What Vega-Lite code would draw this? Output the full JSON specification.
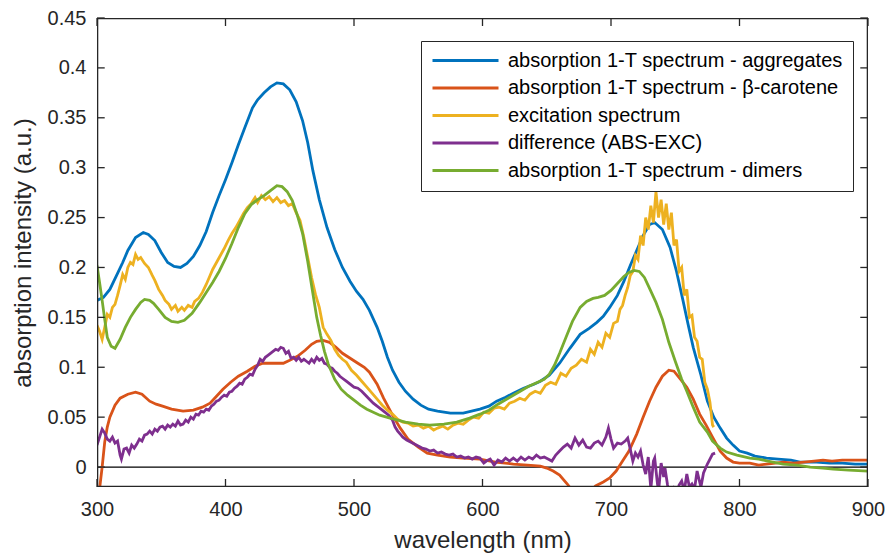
{
  "$schema": "https://vega.github.io/schema/vega-lite/v6.json",
  "width": 771,
  "height": 469,
  "autosize": "none",
  "padding": {"left": 97, "top": 18, "right": 20, "bottom": 67},
  "background": "white",
  "config": {
    "font": "Liberation Sans",
    "view": {"stroke": null},
    "axis": {
      "grid": false,
      "domain": false,
      "ticks": false,
      "labelFlush": false,
      "labelOverlap": false,
      "labelColor": "#262626",
      "labelFont": "Liberation Sans",
      "labelFontSize": 20,
      "titleFont": "Liberation Sans",
      "titleFontSize": 24,
      "titleFontWeight": "normal",
      "titleColor": "#262626"
    }
  },
  "datasets": {
    "xticks": [{"t": 300}, {"t": 400}, {"t": 500}, {"t": 600}, {"t": 700}, {"t": 800}, {"t": 900}],
    "yticks": [{"t": 0}, {"t": 0.05}, {"t": 0.1}, {"t": 0.15}, {"t": 0.2}, {"t": 0.25}, {"t": 0.3}, {"t": 0.35}, {"t": 0.4}, {"t": 0.45}],
    "aggregates": [
      {"wl": 300, "v": 0.167}, {"wl": 305, "v": 0.17}, {"wl": 310, "v": 0.178}, {"wl": 316, "v": 0.194},
      {"wl": 320, "v": 0.205}, {"wl": 324, "v": 0.217}, {"wl": 330, "v": 0.23}, {"wl": 336, "v": 0.235},
      {"wl": 340, "v": 0.233}, {"wl": 345, "v": 0.227}, {"wl": 350, "v": 0.215}, {"wl": 355, "v": 0.205},
      {"wl": 360, "v": 0.201}, {"wl": 365, "v": 0.2}, {"wl": 370, "v": 0.204}, {"wl": 375, "v": 0.211},
      {"wl": 380, "v": 0.222}, {"wl": 385, "v": 0.236}, {"wl": 390, "v": 0.255}, {"wl": 395, "v": 0.272},
      {"wl": 400, "v": 0.288}, {"wl": 405, "v": 0.305}, {"wl": 410, "v": 0.323}, {"wl": 415, "v": 0.34},
      {"wl": 421, "v": 0.36}, {"wl": 425, "v": 0.368}, {"wl": 430, "v": 0.375}, {"wl": 435, "v": 0.381},
      {"wl": 440, "v": 0.385}, {"wl": 445, "v": 0.384}, {"wl": 450, "v": 0.378}, {"wl": 455, "v": 0.366},
      {"wl": 460, "v": 0.347}, {"wl": 464, "v": 0.325}, {"wl": 468, "v": 0.297}, {"wl": 473, "v": 0.268},
      {"wl": 479, "v": 0.24}, {"wl": 485, "v": 0.218}, {"wl": 491, "v": 0.2}, {"wl": 497, "v": 0.186},
      {"wl": 502, "v": 0.176}, {"wl": 507, "v": 0.168}, {"wl": 512, "v": 0.157}, {"wl": 518, "v": 0.14},
      {"wl": 522, "v": 0.126}, {"wl": 526, "v": 0.11}, {"wl": 530, "v": 0.097}, {"wl": 535, "v": 0.085},
      {"wl": 540, "v": 0.076}, {"wl": 546, "v": 0.068}, {"wl": 552, "v": 0.062}, {"wl": 558, "v": 0.058},
      {"wl": 565, "v": 0.056}, {"wl": 575, "v": 0.054}, {"wl": 585, "v": 0.054}, {"wl": 598, "v": 0.058},
      {"wl": 605, "v": 0.061}, {"wl": 611, "v": 0.066}, {"wl": 618, "v": 0.07}, {"wl": 624, "v": 0.074},
      {"wl": 632, "v": 0.079}, {"wl": 640, "v": 0.083}, {"wl": 645, "v": 0.086}, {"wl": 652, "v": 0.092},
      {"wl": 660, "v": 0.104}, {"wl": 668, "v": 0.119}, {"wl": 676, "v": 0.133}, {"wl": 683, "v": 0.139},
      {"wl": 689, "v": 0.145}, {"wl": 694, "v": 0.151}, {"wl": 699, "v": 0.16}, {"wl": 705, "v": 0.172},
      {"wl": 710, "v": 0.186}, {"wl": 715, "v": 0.202}, {"wl": 720, "v": 0.217}, {"wl": 725, "v": 0.232},
      {"wl": 730, "v": 0.243}, {"wl": 734, "v": 0.245}, {"wl": 740, "v": 0.238}, {"wl": 746, "v": 0.22},
      {"wl": 751, "v": 0.196}, {"wl": 756, "v": 0.167}, {"wl": 760, "v": 0.143}, {"wl": 764, "v": 0.12},
      {"wl": 770, "v": 0.092}, {"wl": 775, "v": 0.066}, {"wl": 780, "v": 0.05}, {"wl": 785, "v": 0.039},
      {"wl": 790, "v": 0.029}, {"wl": 795, "v": 0.022}, {"wl": 800, "v": 0.016}, {"wl": 806, "v": 0.014},
      {"wl": 812, "v": 0.011}, {"wl": 821, "v": 0.009}, {"wl": 830, "v": 0.008}, {"wl": 840, "v": 0.007},
      {"wl": 847, "v": 0.005}, {"wl": 860, "v": 0.005}, {"wl": 870, "v": 0.004}, {"wl": 880, "v": 0.004},
      {"wl": 890, "v": 0.003}, {"wl": 900, "v": 0.003}
    ],
    "carotene": [
      {"wl": 302, "v": -0.022}, {"wl": 304, "v": 0.0}, {"wl": 306, "v": 0.025}, {"wl": 308, "v": 0.04},
      {"wl": 310, "v": 0.05}, {"wl": 314, "v": 0.062}, {"wl": 318, "v": 0.069}, {"wl": 324, "v": 0.073},
      {"wl": 330, "v": 0.075}, {"wl": 335, "v": 0.073}, {"wl": 341, "v": 0.066}, {"wl": 346, "v": 0.063},
      {"wl": 351, "v": 0.061}, {"wl": 358, "v": 0.058}, {"wl": 367, "v": 0.056}, {"wl": 375, "v": 0.057},
      {"wl": 382, "v": 0.06}, {"wl": 388, "v": 0.064}, {"wl": 393, "v": 0.071}, {"wl": 398, "v": 0.078},
      {"wl": 404, "v": 0.085}, {"wl": 410, "v": 0.091}, {"wl": 417, "v": 0.096}, {"wl": 423, "v": 0.101},
      {"wl": 429, "v": 0.104}, {"wl": 437, "v": 0.104}, {"wl": 445, "v": 0.104}, {"wl": 450, "v": 0.107},
      {"wl": 456, "v": 0.111}, {"wl": 462, "v": 0.117}, {"wl": 467, "v": 0.123}, {"wl": 471, "v": 0.126},
      {"wl": 476, "v": 0.127}, {"wl": 481, "v": 0.125}, {"wl": 486, "v": 0.12}, {"wl": 491, "v": 0.114},
      {"wl": 497, "v": 0.109}, {"wl": 503, "v": 0.104}, {"wl": 508, "v": 0.1}, {"wl": 512, "v": 0.095},
      {"wl": 518, "v": 0.083}, {"wl": 523, "v": 0.069}, {"wl": 530, "v": 0.052}, {"wl": 536, "v": 0.039},
      {"wl": 542, "v": 0.028}, {"wl": 550, "v": 0.02}, {"wl": 557, "v": 0.014}, {"wl": 565, "v": 0.012},
      {"wl": 575, "v": 0.01}, {"wl": 585, "v": 0.009}, {"wl": 598, "v": 0.008}, {"wl": 610, "v": 0.005},
      {"wl": 624, "v": 0.003}, {"wl": 635, "v": 0.002}, {"wl": 645, "v": 0.001}, {"wl": 650, "v": -0.001},
      {"wl": 655, "v": -0.004}, {"wl": 660, "v": -0.008}, {"wl": 666, "v": -0.017}, {"wl": 670, "v": -0.024},
      {"wl": 675, "v": -0.03}, {"wl": 680, "v": -0.03}, {"wl": 684, "v": -0.024}, {"wl": 688, "v": -0.019},
      {"wl": 694, "v": -0.015}, {"wl": 699, "v": -0.011}, {"wl": 704, "v": -0.004}, {"wl": 709, "v": 0.006},
      {"wl": 714, "v": 0.016}, {"wl": 720, "v": 0.033}, {"wl": 725, "v": 0.05}, {"wl": 730, "v": 0.066},
      {"wl": 735, "v": 0.08}, {"wl": 740, "v": 0.091}, {"wl": 745, "v": 0.097}, {"wl": 749, "v": 0.096},
      {"wl": 754, "v": 0.088}, {"wl": 759, "v": 0.08}, {"wl": 764, "v": 0.068}, {"wl": 769, "v": 0.053},
      {"wl": 774, "v": 0.042}, {"wl": 779, "v": 0.03}, {"wl": 785, "v": 0.016}, {"wl": 790, "v": 0.009},
      {"wl": 795, "v": 0.005}, {"wl": 800, "v": 0.004}, {"wl": 808, "v": 0.004}, {"wl": 815, "v": 0.002},
      {"wl": 821, "v": 0.003}, {"wl": 828, "v": 0.004}, {"wl": 834, "v": 0.005}, {"wl": 842, "v": 0.004},
      {"wl": 850, "v": 0.005}, {"wl": 858, "v": 0.006}, {"wl": 865, "v": 0.007}, {"wl": 872, "v": 0.006},
      {"wl": 880, "v": 0.007}, {"wl": 890, "v": 0.007}, {"wl": 900, "v": 0.007}
    ],
    "excitation": [
      {"wl": 300, "v": 0.142}, {"wl": 302, "v": 0.136}, {"wl": 304, "v": 0.128}, {"wl": 306, "v": 0.14},
      {"wl": 308, "v": 0.153}, {"wl": 310, "v": 0.15}, {"wl": 312, "v": 0.16}, {"wl": 314, "v": 0.163},
      {"wl": 316, "v": 0.172}, {"wl": 318, "v": 0.182}, {"wl": 320, "v": 0.193}, {"wl": 322, "v": 0.188},
      {"wl": 324, "v": 0.2}, {"wl": 326, "v": 0.205}, {"wl": 328, "v": 0.203}, {"wl": 330, "v": 0.213},
      {"wl": 332, "v": 0.208}, {"wl": 334, "v": 0.21}, {"wl": 337, "v": 0.204}, {"wl": 340, "v": 0.2},
      {"wl": 343, "v": 0.192}, {"wl": 345, "v": 0.187}, {"wl": 348, "v": 0.178}, {"wl": 351, "v": 0.172},
      {"wl": 353, "v": 0.167}, {"wl": 356, "v": 0.163}, {"wl": 358, "v": 0.158}, {"wl": 361, "v": 0.162},
      {"wl": 363, "v": 0.156}, {"wl": 366, "v": 0.16}, {"wl": 368, "v": 0.157}, {"wl": 371, "v": 0.162},
      {"wl": 374, "v": 0.16}, {"wl": 376, "v": 0.166}, {"wl": 379, "v": 0.169}, {"wl": 382, "v": 0.175},
      {"wl": 385, "v": 0.183}, {"wl": 388, "v": 0.192}, {"wl": 390, "v": 0.198}, {"wl": 393, "v": 0.205},
      {"wl": 396, "v": 0.212}, {"wl": 399, "v": 0.219}, {"wl": 402, "v": 0.227}, {"wl": 405, "v": 0.234},
      {"wl": 408, "v": 0.24}, {"wl": 411, "v": 0.247}, {"wl": 414, "v": 0.254}, {"wl": 417, "v": 0.26},
      {"wl": 420, "v": 0.264}, {"wl": 423, "v": 0.27}, {"wl": 425, "v": 0.265}, {"wl": 428, "v": 0.272},
      {"wl": 431, "v": 0.268}, {"wl": 434, "v": 0.271}, {"wl": 437, "v": 0.266}, {"wl": 440, "v": 0.27},
      {"wl": 443, "v": 0.265}, {"wl": 446, "v": 0.267}, {"wl": 449, "v": 0.262}, {"wl": 452, "v": 0.264},
      {"wl": 455, "v": 0.255}, {"wl": 458, "v": 0.247}, {"wl": 461, "v": 0.23}, {"wl": 464, "v": 0.21},
      {"wl": 467, "v": 0.19}, {"wl": 470, "v": 0.173}, {"wl": 473, "v": 0.16}, {"wl": 476, "v": 0.14},
      {"wl": 479, "v": 0.133}, {"wl": 482, "v": 0.127}, {"wl": 485, "v": 0.118}, {"wl": 488, "v": 0.112},
      {"wl": 491, "v": 0.108}, {"wl": 494, "v": 0.105}, {"wl": 498, "v": 0.097}, {"wl": 502, "v": 0.092},
      {"wl": 506, "v": 0.086}, {"wl": 510, "v": 0.08}, {"wl": 514, "v": 0.074}, {"wl": 518, "v": 0.068},
      {"wl": 522, "v": 0.062}, {"wl": 526, "v": 0.057}, {"wl": 530, "v": 0.053}, {"wl": 534, "v": 0.048},
      {"wl": 538, "v": 0.045}, {"wl": 542, "v": 0.044}, {"wl": 546, "v": 0.041}, {"wl": 550, "v": 0.042},
      {"wl": 554, "v": 0.039}, {"wl": 558, "v": 0.041}, {"wl": 562, "v": 0.037}, {"wl": 565, "v": 0.039},
      {"wl": 569, "v": 0.041}, {"wl": 573, "v": 0.038}, {"wl": 577, "v": 0.042}, {"wl": 581, "v": 0.044},
      {"wl": 585, "v": 0.043}, {"wl": 589, "v": 0.047}, {"wl": 593, "v": 0.05}, {"wl": 597, "v": 0.049},
      {"wl": 601, "v": 0.055}, {"wl": 605, "v": 0.054}, {"wl": 609, "v": 0.059}, {"wl": 613, "v": 0.06},
      {"wl": 617, "v": 0.058}, {"wl": 621, "v": 0.064}, {"wl": 625, "v": 0.066}, {"wl": 629, "v": 0.069},
      {"wl": 633, "v": 0.067}, {"wl": 637, "v": 0.073}, {"wl": 641, "v": 0.076}, {"wl": 645, "v": 0.074},
      {"wl": 649, "v": 0.082}, {"wl": 653, "v": 0.085}, {"wl": 657, "v": 0.083}, {"wl": 661, "v": 0.094},
      {"wl": 665, "v": 0.091}, {"wl": 669, "v": 0.099}, {"wl": 673, "v": 0.102}, {"wl": 677, "v": 0.108},
      {"wl": 681, "v": 0.105}, {"wl": 684, "v": 0.118}, {"wl": 687, "v": 0.113}, {"wl": 690, "v": 0.125},
      {"wl": 693, "v": 0.12}, {"wl": 696, "v": 0.134}, {"wl": 699, "v": 0.13}, {"wl": 702, "v": 0.144},
      {"wl": 705, "v": 0.146}, {"wl": 707, "v": 0.158}, {"wl": 709, "v": 0.162}, {"wl": 711, "v": 0.172},
      {"wl": 713, "v": 0.18}, {"wl": 715, "v": 0.192}, {"wl": 717, "v": 0.196}, {"wl": 719, "v": 0.212},
      {"wl": 721, "v": 0.208}, {"wl": 723, "v": 0.232}, {"wl": 725, "v": 0.222}, {"wl": 727, "v": 0.25},
      {"wl": 729, "v": 0.238}, {"wl": 731, "v": 0.262}, {"wl": 733, "v": 0.245}, {"wl": 735, "v": 0.276},
      {"wl": 737, "v": 0.25}, {"wl": 739, "v": 0.268}, {"wl": 741, "v": 0.243}, {"wl": 743, "v": 0.264},
      {"wl": 745, "v": 0.238}, {"wl": 747, "v": 0.255}, {"wl": 749, "v": 0.222}, {"wl": 751, "v": 0.228},
      {"wl": 753, "v": 0.196}, {"wl": 755, "v": 0.2}, {"wl": 757, "v": 0.172}, {"wl": 759, "v": 0.178},
      {"wl": 761, "v": 0.15}, {"wl": 763, "v": 0.152}, {"wl": 765, "v": 0.13}, {"wl": 767, "v": 0.126},
      {"wl": 769, "v": 0.11}, {"wl": 771, "v": 0.108}, {"wl": 773, "v": 0.085}, {"wl": 775, "v": 0.078},
      {"wl": 777, "v": 0.065}, {"wl": 779, "v": 0.042}, {"wl": 780, "v": 0.04}
    ],
    "difference": [
      {"wl": 300, "v": 0.022}, {"wl": 302, "v": 0.03}, {"wl": 304, "v": 0.038}, {"wl": 306, "v": 0.034},
      {"wl": 308, "v": 0.028}, {"wl": 310, "v": 0.026}, {"wl": 312, "v": 0.03}, {"wl": 314, "v": 0.024},
      {"wl": 316, "v": 0.026}, {"wl": 318, "v": 0.012}, {"wl": 319, "v": 0.008}, {"wl": 321, "v": 0.018},
      {"wl": 323, "v": 0.019}, {"wl": 325, "v": 0.014}, {"wl": 327, "v": 0.022}, {"wl": 329, "v": 0.019},
      {"wl": 331, "v": 0.023}, {"wl": 333, "v": 0.028}, {"wl": 335, "v": 0.026}, {"wl": 337, "v": 0.032},
      {"wl": 339, "v": 0.033}, {"wl": 341, "v": 0.036}, {"wl": 343, "v": 0.033}, {"wl": 345, "v": 0.038},
      {"wl": 347, "v": 0.036}, {"wl": 349, "v": 0.04}, {"wl": 351, "v": 0.041}, {"wl": 353, "v": 0.038},
      {"wl": 355, "v": 0.042}, {"wl": 357, "v": 0.04}, {"wl": 359, "v": 0.043}, {"wl": 361, "v": 0.041},
      {"wl": 363, "v": 0.046}, {"wl": 365, "v": 0.042}, {"wl": 367, "v": 0.043}, {"wl": 369, "v": 0.047},
      {"wl": 371, "v": 0.045}, {"wl": 373, "v": 0.05}, {"wl": 375, "v": 0.048}, {"wl": 377, "v": 0.053},
      {"wl": 379, "v": 0.052}, {"wl": 381, "v": 0.056}, {"wl": 383, "v": 0.055}, {"wl": 385, "v": 0.058},
      {"wl": 387, "v": 0.057}, {"wl": 389, "v": 0.061}, {"wl": 391, "v": 0.063}, {"wl": 393, "v": 0.066},
      {"wl": 395, "v": 0.067}, {"wl": 397, "v": 0.07}, {"wl": 399, "v": 0.072}, {"wl": 401, "v": 0.071},
      {"wl": 403, "v": 0.075}, {"wl": 405, "v": 0.076}, {"wl": 407, "v": 0.079}, {"wl": 409, "v": 0.081},
      {"wl": 411, "v": 0.084}, {"wl": 413, "v": 0.083}, {"wl": 415, "v": 0.088}, {"wl": 417, "v": 0.09},
      {"wl": 419, "v": 0.093}, {"wl": 421, "v": 0.092}, {"wl": 423, "v": 0.098}, {"wl": 425, "v": 0.102},
      {"wl": 427, "v": 0.108}, {"wl": 429, "v": 0.106}, {"wl": 431, "v": 0.11}, {"wl": 433, "v": 0.112},
      {"wl": 435, "v": 0.114}, {"wl": 437, "v": 0.116}, {"wl": 439, "v": 0.118}, {"wl": 441, "v": 0.117},
      {"wl": 443, "v": 0.12}, {"wl": 445, "v": 0.119}, {"wl": 447, "v": 0.114}, {"wl": 449, "v": 0.116},
      {"wl": 451, "v": 0.109}, {"wl": 453, "v": 0.11}, {"wl": 455, "v": 0.107}, {"wl": 457, "v": 0.11},
      {"wl": 459, "v": 0.106}, {"wl": 461, "v": 0.108}, {"wl": 463, "v": 0.106}, {"wl": 465, "v": 0.104},
      {"wl": 467, "v": 0.108}, {"wl": 469, "v": 0.105}, {"wl": 471, "v": 0.11}, {"wl": 473, "v": 0.107},
      {"wl": 475, "v": 0.109}, {"wl": 477, "v": 0.104}, {"wl": 479, "v": 0.103}, {"wl": 481, "v": 0.1},
      {"wl": 483, "v": 0.099}, {"wl": 485, "v": 0.096}, {"wl": 487, "v": 0.094}, {"wl": 489, "v": 0.091},
      {"wl": 491, "v": 0.089}, {"wl": 494, "v": 0.086}, {"wl": 497, "v": 0.083}, {"wl": 500, "v": 0.08},
      {"wl": 503, "v": 0.079}, {"wl": 506, "v": 0.076}, {"wl": 509, "v": 0.072}, {"wl": 512, "v": 0.068},
      {"wl": 515, "v": 0.064}, {"wl": 518, "v": 0.061}, {"wl": 521, "v": 0.058}, {"wl": 524, "v": 0.055},
      {"wl": 527, "v": 0.052}, {"wl": 530, "v": 0.047}, {"wl": 532, "v": 0.04}, {"wl": 534, "v": 0.036},
      {"wl": 536, "v": 0.033}, {"wl": 538, "v": 0.03}, {"wl": 541, "v": 0.027}, {"wl": 544, "v": 0.025},
      {"wl": 547, "v": 0.023}, {"wl": 550, "v": 0.021}, {"wl": 553, "v": 0.019}, {"wl": 556, "v": 0.018},
      {"wl": 559, "v": 0.016}, {"wl": 562, "v": 0.017}, {"wl": 565, "v": 0.014}, {"wl": 568, "v": 0.015},
      {"wl": 571, "v": 0.013}, {"wl": 574, "v": 0.012}, {"wl": 577, "v": 0.013}, {"wl": 580, "v": 0.01},
      {"wl": 583, "v": 0.011}, {"wl": 586, "v": 0.009}, {"wl": 589, "v": 0.01}, {"wl": 592, "v": 0.008},
      {"wl": 595, "v": 0.01}, {"wl": 598, "v": 0.009}, {"wl": 601, "v": 0.004}, {"wl": 603, "v": 0.006},
      {"wl": 606, "v": 0.008}, {"wl": 609, "v": 0.002}, {"wl": 612, "v": 0.007}, {"wl": 615, "v": 0.005},
      {"wl": 618, "v": 0.009}, {"wl": 621, "v": 0.006}, {"wl": 624, "v": 0.009}, {"wl": 627, "v": 0.006},
      {"wl": 630, "v": 0.01}, {"wl": 633, "v": 0.007}, {"wl": 636, "v": 0.01}, {"wl": 639, "v": 0.008},
      {"wl": 642, "v": 0.012}, {"wl": 645, "v": 0.009}, {"wl": 648, "v": 0.01}, {"wl": 651, "v": 0.008},
      {"wl": 654, "v": 0.006}, {"wl": 657, "v": 0.012}, {"wl": 660, "v": 0.016}, {"wl": 663, "v": 0.02},
      {"wl": 666, "v": 0.023}, {"wl": 669, "v": 0.019}, {"wl": 672, "v": 0.029}, {"wl": 675, "v": 0.022},
      {"wl": 678, "v": 0.027}, {"wl": 681, "v": 0.02}, {"wl": 684, "v": 0.019}, {"wl": 687, "v": 0.024},
      {"wl": 690, "v": 0.026}, {"wl": 693, "v": 0.022}, {"wl": 696, "v": 0.03}, {"wl": 698, "v": 0.039},
      {"wl": 700, "v": 0.028}, {"wl": 702, "v": 0.019}, {"wl": 705, "v": 0.024}, {"wl": 708, "v": 0.023},
      {"wl": 711, "v": 0.026}, {"wl": 713, "v": 0.029}, {"wl": 715, "v": 0.018}, {"wl": 717, "v": 0.006},
      {"wl": 719, "v": 0.014}, {"wl": 721, "v": 0.01}, {"wl": 723, "v": 0.016}, {"wl": 725, "v": 0.002},
      {"wl": 727, "v": -0.007}, {"wl": 729, "v": 0.01}, {"wl": 731, "v": -0.022}, {"wl": 733, "v": 0.006},
      {"wl": 734, "v": 0.009}, {"wl": 736, "v": -0.015}, {"wl": 737, "v": -0.025}, {"wl": 739, "v": 0.004},
      {"wl": 741, "v": -0.01}, {"wl": 742, "v": -0.001}, {"wl": 744, "v": -0.018}, {"wl": 745, "v": -0.025},
      {"wl": 747, "v": -0.03}, {"wl": 749, "v": -0.022}, {"wl": 751, "v": -0.028}, {"wl": 753, "v": -0.018},
      {"wl": 755, "v": -0.014}, {"wl": 757, "v": -0.024}, {"wl": 759, "v": -0.007}, {"wl": 761, "v": -0.02},
      {"wl": 763, "v": -0.017}, {"wl": 765, "v": -0.022}, {"wl": 767, "v": -0.004}, {"wl": 769, "v": -0.015},
      {"wl": 770, "v": -0.02}, {"wl": 772, "v": -0.006}, {"wl": 774, "v": 0.0}, {"wl": 775, "v": 0.003},
      {"wl": 777, "v": 0.008}, {"wl": 779, "v": 0.013}, {"wl": 781, "v": 0.014}
    ],
    "dimers": [
      {"wl": 300, "v": 0.202}, {"wl": 302, "v": 0.185}, {"wl": 304, "v": 0.167}, {"wl": 306, "v": 0.148},
      {"wl": 308, "v": 0.13}, {"wl": 311, "v": 0.121}, {"wl": 314, "v": 0.119}, {"wl": 318, "v": 0.128},
      {"wl": 322, "v": 0.14}, {"wl": 326, "v": 0.15}, {"wl": 330, "v": 0.158}, {"wl": 334, "v": 0.165},
      {"wl": 337, "v": 0.168}, {"wl": 341, "v": 0.167}, {"wl": 344, "v": 0.164}, {"wl": 348, "v": 0.158},
      {"wl": 353, "v": 0.15}, {"wl": 358, "v": 0.146}, {"wl": 363, "v": 0.145}, {"wl": 368, "v": 0.147},
      {"wl": 374, "v": 0.154}, {"wl": 380, "v": 0.165}, {"wl": 385, "v": 0.175}, {"wl": 390, "v": 0.185},
      {"wl": 395, "v": 0.196}, {"wl": 400, "v": 0.209}, {"wl": 405, "v": 0.224}, {"wl": 410, "v": 0.24},
      {"wl": 415, "v": 0.254}, {"wl": 420, "v": 0.263}, {"wl": 425, "v": 0.268}, {"wl": 430, "v": 0.272},
      {"wl": 435, "v": 0.277}, {"wl": 440, "v": 0.282}, {"wl": 444, "v": 0.281}, {"wl": 448, "v": 0.276},
      {"wl": 452, "v": 0.267}, {"wl": 456, "v": 0.252}, {"wl": 460, "v": 0.234}, {"wl": 464, "v": 0.206},
      {"wl": 468, "v": 0.174}, {"wl": 471, "v": 0.15}, {"wl": 474, "v": 0.132}, {"wl": 477, "v": 0.116},
      {"wl": 480, "v": 0.103}, {"wl": 485, "v": 0.088}, {"wl": 490, "v": 0.078}, {"wl": 495, "v": 0.072},
      {"wl": 500, "v": 0.067}, {"wl": 505, "v": 0.062}, {"wl": 510, "v": 0.058}, {"wl": 520, "v": 0.052},
      {"wl": 528, "v": 0.049}, {"wl": 540, "v": 0.045}, {"wl": 550, "v": 0.043}, {"wl": 559, "v": 0.042},
      {"wl": 570, "v": 0.043}, {"wl": 580, "v": 0.045}, {"wl": 590, "v": 0.049}, {"wl": 598, "v": 0.053},
      {"wl": 605, "v": 0.057}, {"wl": 612, "v": 0.063}, {"wl": 620, "v": 0.069}, {"wl": 628, "v": 0.075},
      {"wl": 636, "v": 0.081}, {"wl": 643, "v": 0.085}, {"wl": 648, "v": 0.088}, {"wl": 652, "v": 0.093},
      {"wl": 656, "v": 0.102}, {"wl": 660, "v": 0.114}, {"wl": 665, "v": 0.13}, {"wl": 670, "v": 0.146},
      {"wl": 676, "v": 0.16}, {"wl": 681, "v": 0.166}, {"wl": 686, "v": 0.169}, {"wl": 690, "v": 0.17},
      {"wl": 695, "v": 0.172}, {"wl": 700, "v": 0.177}, {"wl": 705, "v": 0.184}, {"wl": 710, "v": 0.191},
      {"wl": 714, "v": 0.195}, {"wl": 718, "v": 0.197}, {"wl": 722, "v": 0.196}, {"wl": 726, "v": 0.19},
      {"wl": 730, "v": 0.179}, {"wl": 735, "v": 0.165}, {"wl": 740, "v": 0.148}, {"wl": 745, "v": 0.125},
      {"wl": 750, "v": 0.106}, {"wl": 755, "v": 0.088}, {"wl": 759, "v": 0.076}, {"wl": 764, "v": 0.06},
      {"wl": 769, "v": 0.045}, {"wl": 775, "v": 0.035}, {"wl": 779, "v": 0.026}, {"wl": 785, "v": 0.019},
      {"wl": 790, "v": 0.015}, {"wl": 798, "v": 0.012}, {"wl": 808, "v": 0.009}, {"wl": 815, "v": 0.008},
      {"wl": 822, "v": 0.006}, {"wl": 834, "v": 0.003}, {"wl": 845, "v": 0.002}, {"wl": 855, "v": 0.0},
      {"wl": 865, "v": -0.001}, {"wl": 873, "v": -0.002}, {"wl": 885, "v": -0.003}, {"wl": 900, "v": -0.004}
    ]
  },
  "layer": [
    {
      "description": "zero baseline",
      "data": {"values": [{}]},
      "mark": {"type": "rule", "color": "#000000", "strokeWidth": 1.2},
      "encoding": {
        "x": {"datum": 300, "type": "quantitative", "scale": {"domain": [300, 900], "nice": false, "zero": false}},
        "x2": {"datum": 900},
        "y": {"datum": 0, "type": "quantitative", "scale": {"domain": [-0.02, 0.45], "nice": false, "zero": false}}
      }
    },
    {
      "data": {"name": "aggregates"},
      "mark": {"type": "line", "strokeWidth": 2.8, "clip": true},
      "encoding": {
        "x": {
          "field": "wl", "type": "quantitative",
          "scale": {"domain": [300, 900], "nice": false, "zero": false},
          "axis": {"orient": "bottom", "title": "wavelength (nm)", "values": [300, 400, 500, 600, 700, 800, 900], "labelPadding": 12, "titlePadding": 9}
        },
        "y": {
          "field": "v", "type": "quantitative",
          "scale": {"domain": [-0.02, 0.45], "nice": false, "zero": false},
          "axis": {"orient": "left", "title": "absorption intensity (a.u.)", "values": [0, 0.05, 0.1, 0.15, 0.2, 0.25, 0.3, 0.35, 0.4, 0.45], "format": ".2~f", "labelPadding": 11, "titlePadding": 12}
        },
        "color": {
          "datum": "absorption 1-T spectrum - aggregates",
          "scale": {
            "domain": [
              "absorption 1-T spectrum - aggregates",
              "absorption 1-T spectrum - β-carotene",
              "excitation spectrum",
              "difference (ABS-EXC)",
              "absorption 1-T spectrum - dimers"
            ],
            "range": ["#0072BD", "#D95319", "#EDB120", "#7E2F8E", "#77AC30"]
          },
          "legend": {
            "orient": "none", "legendX": 324, "legendY": 23, "title": null,
            "symbolType": "stroke", "symbolSize": 4356, "symbolStrokeWidth": 3,
            "clipHeight": 19, "rowPadding": 6.5, "padding": 10, "labelOffset": 8,
            "labelFont": "Liberation Sans", "labelFontSize": 20, "labelColor": "#000000", "labelLimit": 0,
            "strokeColor": "#262626", "fillColor": "#ffffff"
          }
        }
      }
    },
    {
      "data": {"name": "carotene"},
      "mark": {"type": "line", "strokeWidth": 2.8, "clip": true},
      "encoding": {
        "x": {"field": "wl", "type": "quantitative"},
        "y": {"field": "v", "type": "quantitative"},
        "color": {"datum": "absorption 1-T spectrum - β-carotene"}
      }
    },
    {
      "data": {"name": "excitation"},
      "mark": {"type": "line", "strokeWidth": 2.8, "clip": true},
      "encoding": {
        "x": {"field": "wl", "type": "quantitative"},
        "y": {"field": "v", "type": "quantitative"},
        "color": {"datum": "excitation spectrum"}
      }
    },
    {
      "data": {"name": "difference"},
      "mark": {"type": "line", "strokeWidth": 2.8, "clip": true},
      "encoding": {
        "x": {"field": "wl", "type": "quantitative"},
        "y": {"field": "v", "type": "quantitative"},
        "color": {"datum": "difference (ABS-EXC)"}
      }
    },
    {
      "data": {"name": "dimers"},
      "mark": {"type": "line", "strokeWidth": 2.8, "clip": true},
      "encoding": {
        "x": {"field": "wl", "type": "quantitative"},
        "y": {"field": "v", "type": "quantitative"},
        "color": {"datum": "absorption 1-T spectrum - dimers"}
      }
    },
    {
      "description": "bottom edge of the axes box",
      "data": {"values": [{}]},
      "mark": {"type": "rule", "color": "#262626", "strokeWidth": 1.3},
      "encoding": {
        "x": {"datum": 300, "type": "quantitative"},
        "x2": {"datum": 900},
        "y": {"datum": -0.0194, "type": "quantitative"}
      }
    },
    {
      "description": "top edge of the axes box",
      "data": {"values": [{}]},
      "mark": {"type": "rule", "color": "#262626", "strokeWidth": 1.3},
      "encoding": {
        "x": {"datum": 300, "type": "quantitative"},
        "x2": {"datum": 900},
        "y": {"datum": 0.4494, "type": "quantitative"}
      }
    },
    {
      "description": "left edge of the axes box",
      "data": {"values": [{}]},
      "mark": {"type": "rule", "color": "#262626", "strokeWidth": 1.3},
      "encoding": {
        "y": {"datum": -0.02, "type": "quantitative"},
        "y2": {"datum": 0.45},
        "x": {"datum": 300.5, "type": "quantitative"}
      }
    },
    {
      "description": "right edge of the axes box",
      "data": {"values": [{}]},
      "mark": {"type": "rule", "color": "#262626", "strokeWidth": 1.3},
      "encoding": {
        "y": {"datum": -0.02, "type": "quantitative"},
        "y2": {"datum": 0.45},
        "x": {"datum": 899.5, "type": "quantitative"}
      }
    },
    {
      "description": "inward ticks on the bottom edge",
      "data": {"name": "xticks"},
      "mark": {"type": "rule", "color": "#262626", "strokeWidth": 1.3},
      "encoding": {
        "x": {"field": "t", "type": "quantitative"},
        "y": {"datum": -0.02, "type": "quantitative"},
        "y2": {"datum": -0.012}
      }
    },
    {
      "description": "inward ticks on the top edge",
      "data": {"name": "xticks"},
      "mark": {"type": "rule", "color": "#262626", "strokeWidth": 1.3},
      "encoding": {
        "x": {"field": "t", "type": "quantitative"},
        "y": {"datum": 0.45, "type": "quantitative"},
        "y2": {"datum": 0.442}
      }
    },
    {
      "description": "inward ticks on the left edge",
      "data": {"name": "yticks"},
      "mark": {"type": "rule", "color": "#262626", "strokeWidth": 1.3},
      "encoding": {
        "y": {"field": "t", "type": "quantitative"},
        "x": {"datum": 300, "type": "quantitative"},
        "x2": {"datum": 306}
      }
    },
    {
      "description": "inward ticks on the right edge",
      "data": {"name": "yticks"},
      "mark": {"type": "rule", "color": "#262626", "strokeWidth": 1.3},
      "encoding": {
        "y": {"field": "t", "type": "quantitative"},
        "x": {"datum": 900, "type": "quantitative"},
        "x2": {"datum": 894}
      }
    }
  ]
}
